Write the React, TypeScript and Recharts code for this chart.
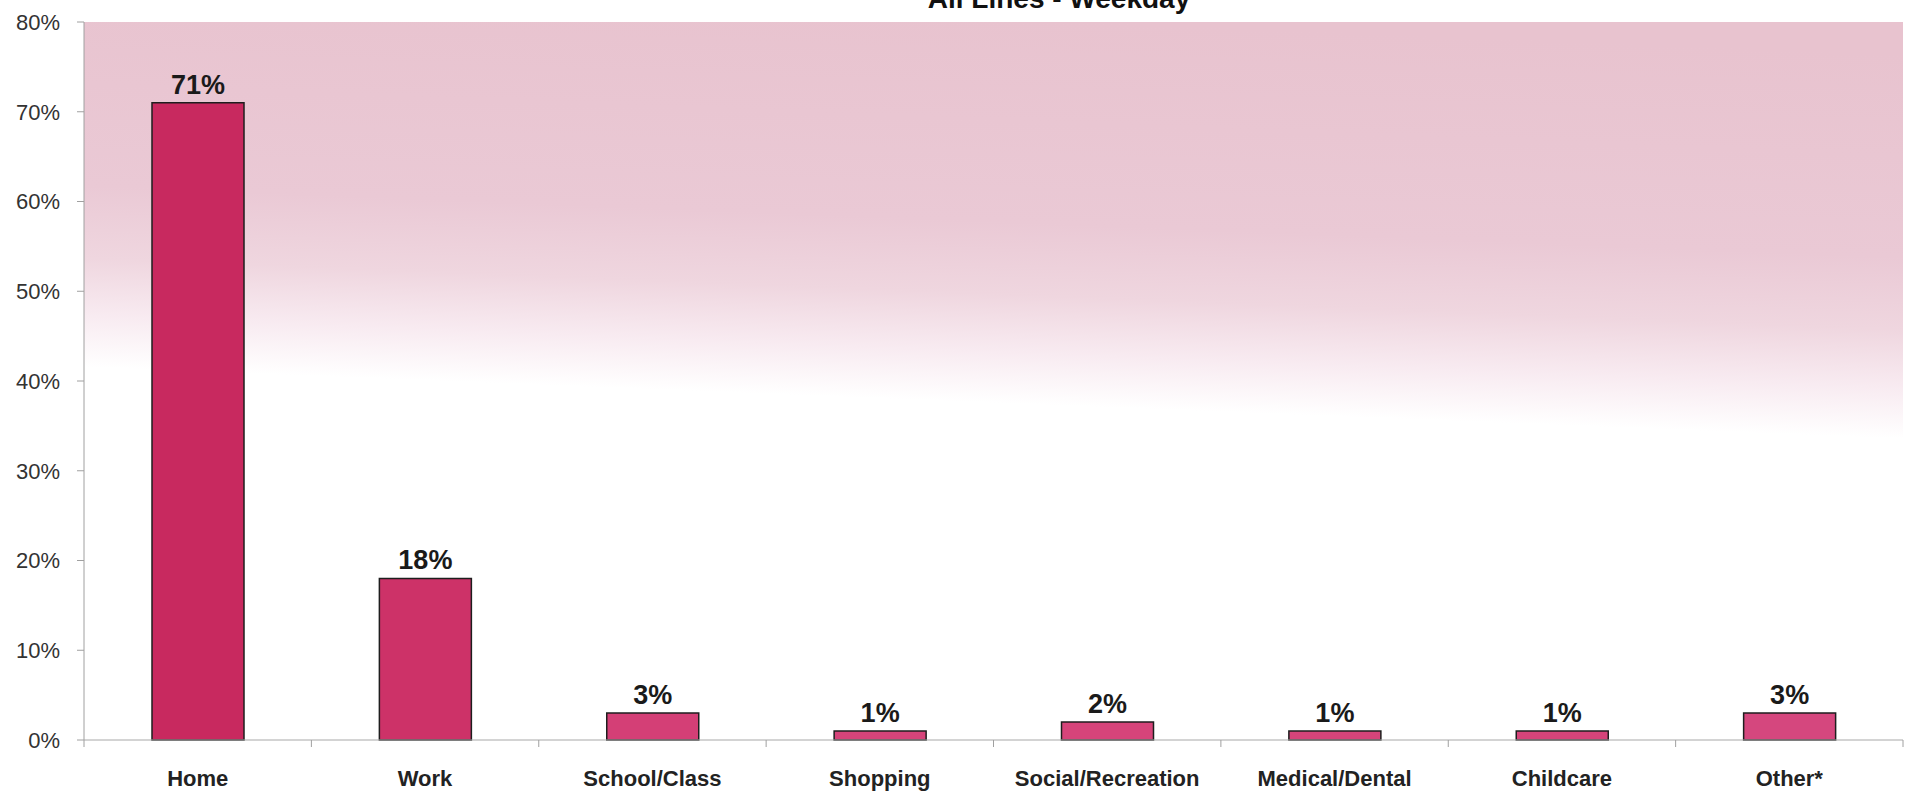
import React from 'react';
import {
  BarChart,
  Bar,
  Cell,
  XAxis,
  YAxis,
  CartesianGrid,
  LabelList,
} from 'recharts';

// Trip purpose shares, all lines, weekday riders
const categories = [
  'Home',
  'Work',
  'School/Class',
  'Shopping',
  'Social/Recreation',
  'Medical/Dental',
  'Childcare',
  'Other*',
];
const shares = [71, 18, 3, 1, 2, 1, 1, 3];
const barColors = ['#c8295f', '#cd3268', '#d43f76', '#d6447a', '#d6447a', '#d6447a', '#d6447a', '#d5477e'];
const yTicks = [0, 10, 20, 30, 40, 50, 60, 70, 80];

const chartData = categories.map((name, i) => ({ name, value: shares[i] }));

const FONT = '"Liberation Sans", Arial, sans-serif';

// category label plus the small tick marks sitting on the category boundaries
const CategoryTick = (props: any) => {
  const { x, y, payload, index, visibleTicksCount } = props;
  const half = payload.offset || 0;
  const axisY = y - 30;
  const isLast = index === visibleTicksCount - 1;
  return (
    <g>
      <line x1={x - half} y1={axisY} x2={x - half} y2={axisY + 7} stroke="#a0a0a0" />
      {isLast && <line x1={x + half} y1={axisY} x2={x + half} y2={axisY + 7} stroke="#a0a0a0" />}
      <text
        x={x}
        y={y}
        dy="0.71em"
        textAnchor="middle"
        fontSize={22}
        fontWeight={700}
        fill="#222"
        fontFamily={FONT}
      >
        {payload.value}
      </text>
    </g>
  );
};

export default function App() {
  return (
    <div style={{ position: 'absolute', left: 0, top: 0, width: 1909, height: 793, background: '#fff', fontFamily: FONT }}>
      <BarChart
        width={1909}
        height={793}
        data={chartData}
        margin={{ top: 22, right: 6, bottom: 0, left: 0 }}
      >
        <defs>
          <linearGradient id="plotBg" x1="0.55" y1="0" x2="0.45" y2="1">
            <stop offset="0" stopColor="#e8c3cf" />
            <stop offset="0.28" stopColor="#eaC9d5" />
            <stop offset="0.38" stopColor="#efd6df" />
            <stop offset="0.46" stopColor="#f8ebf1" />
            <stop offset="0.53" stopColor="#ffffff" />
            <stop offset="1" stopColor="#ffffff" />
          </linearGradient>
        </defs>
        <CartesianGrid horizontal={false} vertical={false} fill="url(#plotBg)" />
        <XAxis
          dataKey="name"
          height={53}
          interval={0}
          tickLine={false}
          tickSize={6}
          tickMargin={24}
          axisLine={{ stroke: '#a8a8a8' }}
          tick={<CategoryTick />}
        />
        <YAxis
          domain={[0, 80]}
          ticks={yTicks}
          interval={0}
          width={84}
          tickSize={7}
          tickMargin={17}
          tickFormatter={(v) => `${v}%`}
          axisLine={{ stroke: '#a0a0a0' }}
          tickLine={{ stroke: '#a0a0a0' }}
          tick={{ fontSize: 22, fill: '#333', fontFamily: FONT }}
        />
        <YAxis
          yAxisId="frame"
          orientation="right"
          width={0}
          tick={false}
          tickLine={false}
          axisLine={{ stroke: '#a0a0a0' }}
        />
        <Bar dataKey="value" barSize={92} stroke="#1e1e1e" strokeWidth={1.5} isAnimationActive={false}>
          {chartData.map((entry, index) => (
            <Cell key={`bar-${index}`} fill={barColors[index % barColors.length]} />
          ))}
          <LabelList
            dataKey="value"
            position="top"
            offset={9}
            formatter={(v: number) => `${v}%`}
            style={{ fontSize: 27, fontWeight: 700, fill: '#1a1a1a', fontFamily: FONT }}
          />
        </Bar>
      </BarChart>
      <svg width={1909} height={40} style={{ position: 'absolute', left: 0, top: 0 }}>
        <text x={1059} y={8} textAnchor="middle" fontSize={28} fontWeight={700} fill="#111" fontFamily={FONT}>
          All Lines - Weekday
        </text>
      </svg>
    </div>
  );
}
